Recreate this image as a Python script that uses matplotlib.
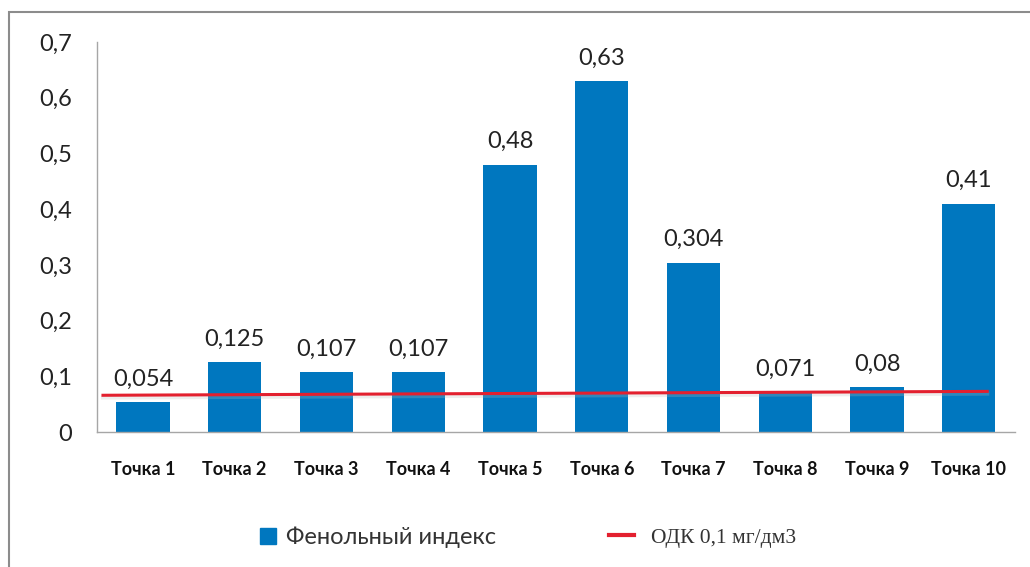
import numpy as np
import matplotlib.pyplot as plt
from matplotlib.patches import Rectangle
from matplotlib.lines import Line2D

points = ["Точка 1", "Точка 2", "Точка 3", "Точка 4", "Точка 5",
          "Точка 6", "Точка 7", "Точка 8", "Точка 9", "Точка 10"]
phenol_index = [0.054, 0.125, 0.107, 0.107, 0.48, 0.63, 0.304, 0.071, 0.08, 0.41]
value_labels = ["0,054", "0,125", "0,107", "0,107", "0,48", "0,63", "0,304", "0,071", "0,08", "0,41"]
yticks = [0, 0.1, 0.2, 0.3, 0.4, 0.5, 0.6, 0.7]
ytick_labels = ["0", "0,1", "0,2", "0,3", "0,4", "0,5", "0,6", "0,7"]
# red "ОДК" line as drawn in the picture (start / end)
odk_x = [-0.435, 9.2]
odk_y = [0.066, 0.073]

plt.rcParams['font.family'] = ['Lato', 'DejaVu Sans']

fig = plt.figure(figsize=(10.3, 5.67), dpi=100)
ax = fig.add_axes([0.0942, 0.238, 0.891, 0.688])

x = np.arange(len(points))
bars = ax.bar(x, phenol_index, width=0.58, color='#0077BF', zorder=2,
              label='Фенольный индекс')

# faint shadow under red line
ax.plot(odk_x, np.array(odk_y) - 0.004, color='#bbbbbb', lw=3, alpha=0.25, zorder=2.5)
line, = ax.plot(odk_x, odk_y, color='#E3202F', lw=2.2, zorder=3)

for xi, v, lab in zip(x, phenol_index, value_labels):
    ax.annotate(lab, (xi, v), xytext=(0, 9), textcoords='offset points',
                ha='center', va='bottom', fontsize=17, color='#222222')

ax.set_xlim(-0.5, 9.5)
ax.set_ylim(0, 0.7)
ax.set_yticks(yticks)
ax.set_yticklabels(ytick_labels, fontsize=17, color='#222222')
ax.set_xticks(x)
ax.set_xticklabels(points, fontsize=13, fontweight='bold', color='#111111')
ax.tick_params(axis='both', length=0)
ax.tick_params(axis='y', pad=18)
ax.tick_params(axis='x', pad=21)

for s in ['top', 'right']:
    ax.spines[s].set_visible(False)
ax.spines['left'].set_color('#a6a6a6')
ax.spines['bottom'].set_color('#a6a6a6')
ax.spines['left'].set_linewidth(1.0)
ax.spines['bottom'].set_linewidth(1.0)

# legend: two separate entries to get the spacing of the original
h1 = Rectangle((0, 0), 1, 1, color='#0077BF')
leg1 = fig.legend([h1], ['Фенольный индекс'], loc='center left',
                  bbox_to_anchor=(0.232, 0.052), frameon=False, fontsize=17,
                  handlelength=0.65, handleheight=0.65, handletextpad=0.45)
leg1.get_texts()[0].set_color('#333333')

h2 = Line2D([0], [0], color='#E3202F', lw=3)
leg2 = fig.legend([h2], ['ОДК 0,1 мг/дм3'], loc='center left',
                  bbox_to_anchor=(0.572, 0.052), frameon=False,
                  prop={'family': ['Liberation Serif', 'DejaVu Serif'], 'size': 15.5},
                  handlelength=1.2, handletextpad=0.75)
leg2.get_texts()[0].set_color('#333333')

# chart frame (cropped on right/bottom)
fig.add_artist(Rectangle((0.0087, -0.1), 1.2, 1.1 - 0.021, transform=fig.transFigure,
                         fill=False, edgecolor='#8c8c8c', lw=1.5))

fig.savefig('out.png', dpi=100)
